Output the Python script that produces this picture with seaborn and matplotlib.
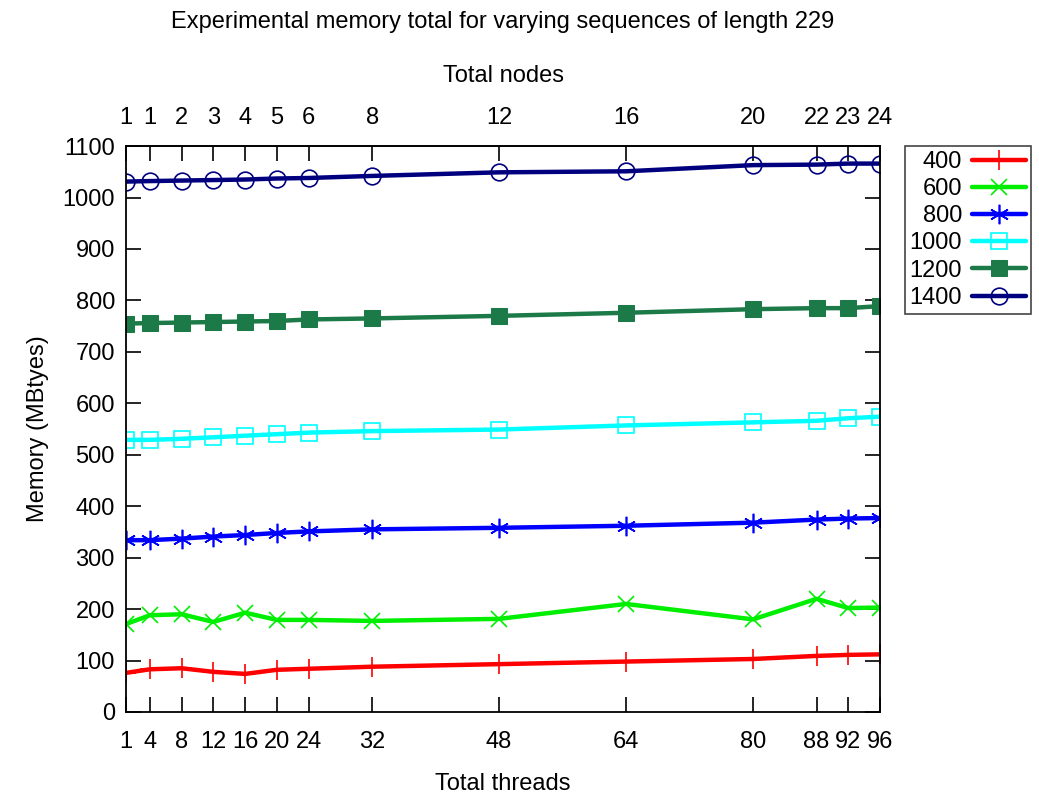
import numpy as np
import pandas as pd
import matplotlib
matplotlib.use("Agg")
import matplotlib.pyplot as plt
import seaborn as sns

threads = [1, 4, 8, 12, 16, 20, 24, 32, 48, 64, 80, 88, 92, 96]
nodes = ["1", "1", "2", "3", "4", "5", "6", "8", "12", "16", "20", "22", "23", "24"]

mem_400 = [76, 83, 85, 78, 74, 82, 84, 88, 93, 98, 103, 109, 111, 112]
mem_600 = [171, 188, 190, 175, 193, 179, 179, 177, 181, 210, 180, 220, 202, 203]
mem_800 = [334, 334, 337, 341, 344, 348, 351, 355, 358, 362, 368, 374, 376, 377]
mem_1000 = [529, 529, 531, 534, 537, 540, 543, 546, 549, 557, 563, 566, 571, 574]
mem_1200 = [755, 756, 757, 758, 759, 760, 763, 765, 770, 776, 783, 785, 785, 789]
mem_1400 = [1031, 1032, 1033, 1034, 1035, 1037, 1038, 1042, 1049, 1051, 1063, 1064, 1066, 1066]

labels = ["400", "600", "800", "1000", "1200", "1400"]
series = [mem_400, mem_600, mem_800, mem_1000, mem_1200, mem_1400]
colors = ["#ff0000", "#00ee00", "#0000ff", "#00ffff", "#1b7a48", "#00007f"]

sns.set_theme(style="white")
plt.rcParams["font.family"] = ["Liberation Sans", "DejaVu Sans"]
plt.rcParams["text.color"] = "black"
plt.rcParams["axes.labelcolor"] = "black"
plt.rcParams["xtick.color"] = "black"
plt.rcParams["ytick.color"] = "black"

FS = 17

fig = plt.figure(figsize=(10.39, 7.94), dpi=100)
ax = fig.add_axes([0.1213, 0.1033, 0.7257, 0.7127])

styles = [
    dict(marker="+", markersize=14, markeredgewidth=1.2),
    dict(marker="x", markersize=11, markeredgewidth=1.2),
    dict(marker=(6, 2, 0), markersize=14, markeredgewidth=1.2),
    dict(marker="s", markersize=12, markerfacecolor="none", markeredgewidth=1.2),
    dict(marker="s", markersize=11),
    dict(marker="o", markersize=12, markerfacecolor="none", markeredgewidth=1.2),
]

for lab, vals, col, st in zip(labels, series, colors, styles):
    df = pd.DataFrame({"threads": threads, "mem": vals})
    kw = dict(st)
    kw.setdefault("markeredgecolor", col)
    sns.lineplot(data=df, x="threads", y="mem", ax=ax, color=col, linewidth=3.2,
                 label=lab, **kw)

ax.set_xlim(1, 96)
ax.set_ylim(0, 1100)
ax.set_xticks(threads)
ax.set_xticklabels([str(t) for t in threads])
ax.set_yticks(np.arange(0, 1101, 100))
ax.tick_params(axis="x", direction="in", length=11, width=1.2, color="black",
               labelsize=FS, pad=14, bottom=True, top=False)
ax.tick_params(axis="y", direction="in", length=11, width=1.2, color="black",
               labelsize=FS, left=True, right=True, pad=8)
for s in ax.spines.values():
    s.set_color("black")
    s.set_linewidth(1.3)

ax.set_xlabel("Total threads", fontsize=FS, labelpad=14)
ax.set_ylabel("Memory (MBtyes)", fontsize=FS, labelpad=10)

top = ax.secondary_xaxis("top")
top.set_xticks(threads)
top.set_xticklabels(nodes)
top.tick_params(axis="x", direction="in", length=11, width=1.2, color="black",
                labelsize=FS, pad=12)
top.set_xlabel("Total nodes", fontsize=FS, labelpad=18)

fig.text(0.484, 0.972, "Experimental memory total for varying sequences of length 229",
         fontsize=FS, ha="center", va="center")

leg = ax.legend(loc="upper left", bbox_to_anchor=(0.871, 0.816),
                bbox_transform=fig.transFigure, borderaxespad=0,
                markerfirst=False, fontsize=FS, handlelength=2.3,
                labelspacing=0.22, handletextpad=0.4, borderpad=0.2,
                fancybox=False, framealpha=1, edgecolor="#444444")
leg.get_frame().set_linewidth(1.2)

fig.savefig("out.png", dpi=100)
